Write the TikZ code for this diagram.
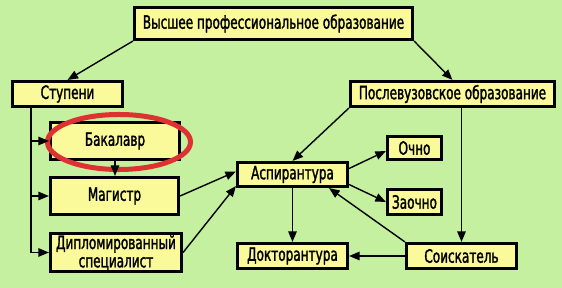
\documentclass[tikz,border=0pt]{standalone}
\usepackage{fontspec}
\setmainfont{DejaVu Sans}[FakeStretch=0.66, FakeBold=1.6]
\usetikzlibrary{arrows.meta}
\definecolor{wiese}{RGB}{197,240,160}
\definecolor{kasten}{RGB}{250,250,155}
\definecolor{kreis}{RGB}{222,50,50}

\begin{document}
\begin{tikzpicture}[x=0.025cm, y=-0.025cm,
    feld/.style={draw, line width=2.2pt, fill=kasten, inner sep=1pt,
        minimum height=0.625cm, align=center,
        font=\fontsize{13}{13}\selectfont},
    pfeil/.style={-{Triangle[length=7.5pt,width=6pt]}, line width=1pt}]
    % Hintergrund:
    \fill[wiese] (0,0) rectangle (562,288);
    % oberste Ebene:
    \node[feld, minimum width=6.95cm, minimum height=0.8cm] (hoch) at (273.5,23.5) {Высшее профессиональное образование};
    \node[feld, minimum width=2.75cm] (stufen) at (67.5,94) {Ступени};
    \node[feld, minimum width=5.1cm] (nachuni) at (452.5,94) {Послевузовское образование};
    % Stufen links:
    \node[feld, minimum width=3.225cm, minimum height=0.925cm] (bachelor) at (115,141) {Бакалавр};
    \node[feld, minimum width=3.2cm, minimum height=0.925cm] (master) at (114.5,196) {Магистр};
    \node[feld, minimum width=3.275cm, minimum height=0.95cm] (diplom) at (116,252.5) {Дипломированный\\специалист};
    % Mitte und rechts:
    \node[feld, minimum width=2.75cm, minimum height=0.6cm] (aspirantur) at (292.5,174.5) {Аспирантура};
    \node[feld, minimum width=2.75cm] (doktorantur) at (292.5,256) {Докторантура};
    \node[feld, minimum width=1.35cm, minimum height=0.575cm] (direkt) at (414.5,148) {Очно};
    \node[feld, minimum width=1.35cm] (fern) at (414.5,202) {Заочно};
    \node[feld, minimum width=2.75cm] (bewerber) at (461.5,256) {Соискатель};
    % Markierung:
    \draw[kreis, line width=0.125cm] (119,142) ellipse [x radius=1.7875cm, y radius=0.6875cm];
    % Pfeile oben:
    \draw[pfeil] (hoch.south west) -- (stufen.north);
    \draw[pfeil] (hoch.south east) -- (nachuni.north);
    % Stufen:
    \path (stufen.south) ++(-36.5,0) coordinate (stamm);
    \foreach \ziel in {bachelor, master, diplom}
        \draw[pfeil] (stamm) |- (\ziel.west);
    \draw[pfeil] (bachelor.south) -- (bachelor.south |- master.north);
    \draw[pfeil] (master.east) -- ([yshift=0.075cm]aspirantur.west);
    \draw[pfeil] (diplom.east) -- ([yshift=0.05cm]aspirantur.south west);
    % Nachuni:
    \draw[pfeil] (nachuni.south west) -- (aspirantur.north);
    \draw[pfeil] (bewerber.north |- nachuni.south) -- (bewerber.north);
    \draw[pfeil] ([yshift=0.15cm]aspirantur.east) -- ([yshift=-0.075cm]direkt.west);
    \draw[pfeil] ([yshift=-0.25cm]aspirantur.east) -- (fern.west);
    \draw[pfeil] (bewerber.north west) -- ([xshift=-0.5cm]aspirantur.south east);
    \draw[pfeil] (aspirantur.south) -- (doktorantur.north);
    \draw[pfeil] (bewerber.west) -- (doktorantur.east);
\end{tikzpicture}
\end{document}
